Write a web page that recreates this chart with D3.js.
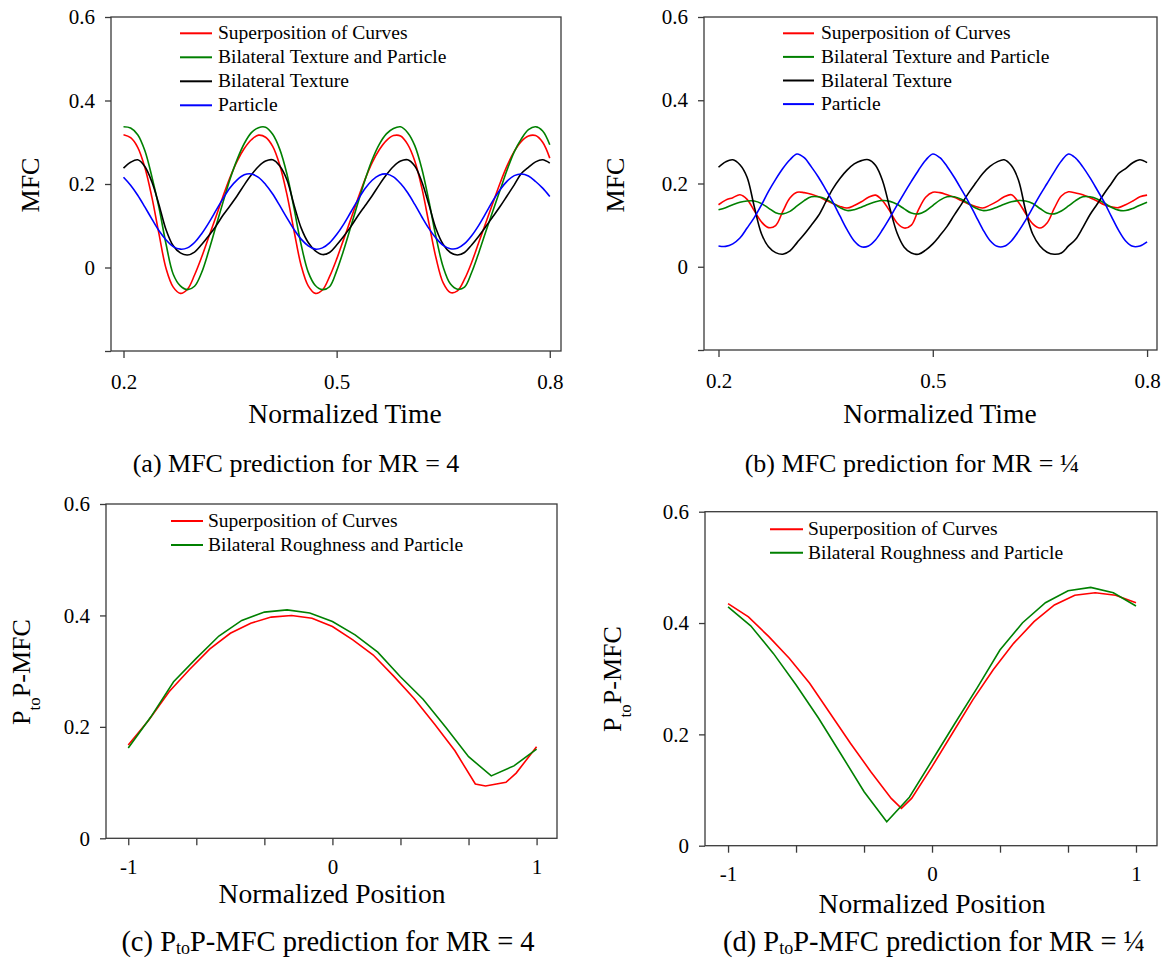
<!DOCTYPE html>
<html><head><meta charset="utf-8">
<script src="https://cdn.jsdelivr.net/npm/d3@7"></script>
<style>
body{margin:0;background:#fff}
svg{display:block}
text{font-family:"Liberation Serif","Times New Roman",serif;fill:#000}
</style>
</head><body>
<svg id="chart" width="1162" height="960"></svg>
<script>
// ---------------- DATA ----------------
const timeGrid = [0.20,0.21,0.22,0.23,0.24,0.25,0.26,0.27,0.28,0.29,
  0.30,0.31,0.32,0.33,0.34,0.35,0.36,0.37,0.38,0.39,
  0.40,0.41,0.42,0.43,0.44,0.45,0.46,0.47,0.48,0.49,
  0.50,0.51,0.52,0.53,0.54,0.55,0.56,0.57,0.58,0.59,
  0.60,0.61,0.62,0.63,0.64,0.65,0.66,0.67,0.68,0.69,
  0.70,0.71,0.72,0.73,0.74,0.75,0.76,0.77,0.78,0.79,0.80];

// (a) MR = 4
const mr4Superposition = [0.318,0.311,0.288,0.240,0.168,0.080,-0.003,-0.047,-0.062,-0.052,
  -0.018,0.025,0.073,0.121,0.170,0.216,0.255,0.285,0.306,0.317,
  0.312,0.290,0.245,0.175,0.088,0.005,-0.044,-0.062,-0.054,-0.022,
  0.020,0.068,0.116,0.165,0.211,0.251,0.282,0.304,0.316,0.315,
  0.295,0.255,0.190,0.105,0.022,-0.037,-0.060,-0.056,-0.028,0.012,
  0.060,0.107,0.155,0.202,0.244,0.278,0.302,0.315,0.316,0.300,0.262];
const mr4TextureParticle = [0.337,0.334,0.318,0.280,0.217,0.143,0.055,-0.016,-0.044,-0.053,
  -0.045,-0.012,0.040,0.098,0.156,0.212,0.259,0.297,0.323,0.335,
  0.336,0.319,0.283,0.224,0.142,0.055,-0.011,-0.043,-0.053,-0.046,
  -0.008,0.042,0.098,0.155,0.210,0.258,0.295,0.320,0.333,0.337,
  0.323,0.292,0.236,0.158,0.072,0.001,-0.039,-0.052,-0.047,-0.012,
  0.035,0.086,0.136,0.185,0.234,0.277,0.308,0.330,0.337,0.327,0.294];
const mr4Texture = [0.238,0.252,0.258,0.242,0.205,0.150,0.090,0.052,0.035,0.030,
  0.037,0.055,0.076,0.099,0.125,0.148,0.172,0.198,0.222,0.242,
  0.255,0.258,0.243,0.210,0.150,0.095,0.060,0.040,0.031,0.036,
  0.054,0.075,0.098,0.124,0.148,0.172,0.198,0.222,0.242,0.255,
  0.258,0.243,0.205,0.150,0.092,0.055,0.036,0.030,0.036,0.054,
  0.075,0.098,0.122,0.146,0.172,0.198,0.225,0.240,0.253,0.258,0.250];
const mr4Particle = [0.216,0.197,0.173,0.145,0.116,0.088,0.066,0.050,0.044,0.047,
  0.060,0.081,0.107,0.136,0.165,0.191,0.210,0.222,0.224,0.216,
  0.199,0.176,0.148,0.119,0.091,0.068,0.052,0.044,0.047,0.059,
  0.079,0.104,0.133,0.162,0.189,0.209,0.221,0.224,0.217,0.201,
  0.179,0.151,0.121,0.093,0.070,0.053,0.045,0.046,0.057,0.076,
  0.101,0.130,0.160,0.186,0.207,0.220,0.224,0.219,0.206,0.190,0.170];

// (b) MR = 1/4
const mrQSuperposition = [0.149,0.160,0.166,0.173,0.162,0.135,0.108,0.094,0.099,0.133,
  0.165,0.179,0.178,0.174,0.168,0.160,0.152,0.145,0.141,0.147,
  0.156,0.167,0.172,0.158,0.133,0.105,0.093,0.100,0.137,0.167,
  0.179,0.178,0.173,0.167,0.159,0.151,0.145,0.141,0.148,0.157,
  0.168,0.173,0.155,0.128,0.103,0.093,0.105,0.140,0.170,0.180,
  0.177,0.173,0.166,0.158,0.149,0.144,0.142,0.149,0.158,0.168,0.172];
const mrQTextureParticle = [0.137,0.142,0.149,0.155,0.158,0.158,0.152,0.141,0.130,0.127,
  0.133,0.146,0.159,0.168,0.168,0.163,0.153,0.142,0.135,0.137,
  0.143,0.150,0.156,0.159,0.157,0.150,0.139,0.129,0.127,0.134,
  0.147,0.160,0.168,0.168,0.162,0.152,0.141,0.135,0.137,0.143,
  0.150,0.156,0.159,0.158,0.152,0.140,0.129,0.127,0.134,0.146,
  0.159,0.168,0.168,0.163,0.153,0.143,0.136,0.135,0.140,0.148,0.155];
const mrQTexture = [0.239,0.252,0.257,0.245,0.215,0.145,0.080,0.048,0.034,0.030,
  0.038,0.058,0.078,0.100,0.123,0.155,0.187,0.212,0.232,0.247,
  0.255,0.257,0.243,0.205,0.140,0.081,0.047,0.033,0.030,0.040,
  0.055,0.075,0.097,0.124,0.150,0.177,0.201,0.224,0.241,0.252,
  0.257,0.243,0.208,0.135,0.078,0.050,0.035,0.030,0.033,0.050,
  0.066,0.094,0.125,0.150,0.176,0.200,0.224,0.236,0.250,0.257,0.250];
const mrQParticle = [0.050,0.049,0.055,0.069,0.093,0.118,0.148,0.181,0.210,0.236,
  0.257,0.271,0.262,0.240,0.215,0.186,0.156,0.122,0.089,0.062,
  0.048,0.050,0.065,0.090,0.118,0.148,0.177,0.205,0.232,0.256,
  0.271,0.262,0.241,0.215,0.186,0.156,0.123,0.090,0.063,0.049,
  0.049,0.062,0.085,0.112,0.142,0.172,0.200,0.228,0.254,0.271,
  0.261,0.240,0.214,0.185,0.155,0.121,0.088,0.062,0.049,0.050,0.060];

// (c) PtoP-MFC, MR = 4
const posSuperpositionC = [-1,-0.9,-0.8,-0.7,-0.6,-0.5,-0.4,-0.3,-0.2,-0.1,0,0.1,0.2,0.3,0.4,0.5,0.6,0.7,0.75,0.85,0.9,1];
const ptpMr4Superposition = [0.1675,0.212,0.263,0.303,0.340,0.368,0.386,0.397,0.400,0.395,0.380,0.356,0.329,0.291,0.251,0.205,0.157,0.0975,0.094,0.1005,0.117,0.1645];
const posRoughnessC = [-1,-0.889,-0.778,-0.667,-0.556,-0.444,-0.333,-0.222,-0.111,0,0.111,0.222,0.333,0.444,0.556,0.667,0.778,0.889,1];
const ptpMr4Roughness = [0.162,0.218,0.281,0.323,0.363,0.391,0.406,0.410,0.4045,0.389,0.365,0.334,0.290,0.2495,0.199,0.1465,0.112,0.130,0.160];

// (d) PtoP-MFC, MR = 1/4
const posSuperpositionD = [-1,-0.9,-0.8,-0.7,-0.6,-0.5,-0.4,-0.3,-0.2,-0.15,-0.1,0,0.1,0.2,0.3,0.4,0.5,0.6,0.7,0.8,0.9,1];
const ptpMrQSuperposition = [0.435,0.411,0.3755,0.3366,0.2917,0.238,0.184,0.133,0.085,0.067,0.085,0.142,0.202,0.262,0.316,0.3635,0.4024,0.4324,0.450,0.4545,0.450,0.4365];
const posRoughnessD = [-1,-0.889,-0.778,-0.667,-0.556,-0.444,-0.333,-0.222,-0.111,0,0.111,0.222,0.333,0.444,0.556,0.667,0.778,0.889,1];
const ptpMrQRoughness = [0.429,0.395,0.3455,0.289,0.229,0.163,0.097,0.043,0.087,0.153,0.219,0.284,0.3515,0.4006,0.4365,0.458,0.464,0.4545,0.4306];

// ticks & labels
const timeTicks = [0.2,0.5,0.8];
const timeTickLabels = ["0.2","0.5","0.8"];
const mfcTicks = [-0.2,0,0.2,0.4,0.6];
const mfcTickLabels = ["","0","0.2","0.4","0.6"];
const posTicks = [-1,-2/3,-1/3,0,1/3,2/3,1];
const posTickLabels = ["-1","","","0","","","1"];
const ptpTicks = [0,0.2,0.4,0.6];
const ptpTickLabels = ["0","0.2","0.4","0.6"];

const mfcSeriesNames = ["Superposition of Curves","Bilateral Texture and Particle","Bilateral Texture","Particle"];
const ptpSeriesNames = ["Superposition of Curves","Bilateral Roughness and Particle"];
const seriesColors = ["#ff0000","#008000","#000000","#0000ff"];

// ---------------- DRAW ----------------
const svg = d3.select('#chart');
const axisColor = '#3a3a3a';

function drawPanel(p){
  const g = svg.append('g');
  const x = d3.scaleLinear().domain(p.xDomain).range([p.left,p.right]);
  const y = d3.scaleLinear().domain(p.yDomain).range([p.bottom,p.top]);

  g.append('rect').attr('x',p.left).attr('y',p.top)
    .attr('width',p.right-p.left).attr('height',p.bottom-p.top)
    .attr('fill','none').attr('stroke',axisColor).attr('stroke-width',1.3);

  const ya = g.append('g').attr('transform',`translate(${p.left},0)`)
    .call(d3.axisLeft(y).tickValues(p.yTicks).tickFormat((d,i)=>p.yTickLabels[i]).tickSize(6).tickPadding(10).tickSizeOuter(0));
  ya.select('.domain').remove();
  ya.selectAll('line').attr('stroke',axisColor).attr('stroke-width',1.3);
  ya.selectAll('text').style('font-family','"Liberation Serif",serif').style('font-size','21px').attr('fill','#000');

  const xa = g.append('g').attr('transform',`translate(0,${p.bottom})`)
    .call(d3.axisBottom(x).tickValues(p.xTicks).tickFormat((d,i)=>p.xTickLabels[i]).tickSize(7).tickPadding(p.xPad).tickSizeOuter(0));
  xa.select('.domain').remove();
  xa.selectAll('line').attr('stroke',axisColor).attr('stroke-width',1.3);
  xa.selectAll('text').style('font-family','"Liberation Serif",serif').style('font-size','21px').attr('fill','#000');

  const line = d3.line().x(d=>x(d[0])).y(d=>y(d[1])).curve(p.curve);
  p.series.forEach(s=>{
    g.append('path').datum(s.xs.map((v,i)=>[v,s.ys[i]]))
      .attr('d',line).attr('fill','none').attr('stroke',s.color).attr('stroke-width',1.6);
  });

  // legend
  p.series.forEach((s,i)=>{
    const ry = p.legend.y0 + i*p.legend.dy;
    g.append('line').attr('x1',p.legend.x1).attr('x2',p.legend.x2).attr('y1',ry).attr('y2',ry)
      .attr('stroke',s.color).attr('stroke-width',2);
    g.append('text').attr('x',p.legend.tx).attr('y',ry+6).style('font-size','19.5px').text(s.name);
  });

  // y label
  const yl = g.append('text').attr('transform',`translate(${p.yLabel.x},${p.yLabel.y}) rotate(-90)`)
    .attr('text-anchor','middle').style('font-size','26px');
  if(p.yLabel.sub){
    yl.append('tspan').text('P');
    yl.append('tspan').attr('dy',10).style('font-size','17px').text('to');
    yl.append('tspan').attr('dy',-10).text('P-MFC');
  } else yl.text('MFC');

  // x title
  g.append('text').attr('x',p.xTitle.x).attr('y',p.xTitle.y).attr('text-anchor','middle')
    .style('font-size','27.5px').text(p.xTitle.text);

  // caption
  const c = g.append('text').attr('x',p.caption.x).attr('y',p.caption.y).attr('text-anchor','middle').style('font-size',p.caption.size+'px');
  if(p.caption.sub){
    c.append('tspan').text(p.caption.pre);
    c.append('tspan').attr('dy',3).style('font-size','18px').text('to');
    c.append('tspan').attr('dy',-3).text(p.caption.post);
  } else c.text(p.caption.text);
}

const smooth = d3.curveCatmullRom.alpha(0.5);

drawPanel({
  left:111, right:561, top:17, bottom:351,
  xDomain:[0.1824,0.8158], yDomain:[-0.2,0.6],
  xTicks:timeTicks, xTickLabels:timeTickLabels, yTicks:mfcTicks, yTickLabels:mfcTickLabels, xPad:16,
  curve:smooth,
  series:[
    {xs:timeGrid, ys:mr4Superposition, color:seriesColors[0], name:mfcSeriesNames[0]},
    {xs:timeGrid, ys:mr4TextureParticle, color:seriesColors[1], name:mfcSeriesNames[1]},
    {xs:timeGrid, ys:mr4Texture, color:seriesColors[2], name:mfcSeriesNames[2]},
    {xs:timeGrid, ys:mr4Particle, color:seriesColors[3], name:mfcSeriesNames[3]}],
  legend:{x1:180, x2:212, tx:218, y0:33.3, dy:24},
  yLabel:{x:39, y:185},
  xTitle:{x:345, y:423, text:'Normalized Time'},
  caption:{x:296, y:472, size:26, text:'(a) MFC prediction for MR = 4'}
});

drawPanel({
  left:704, right:1157, top:17, bottom:350,
  xDomain:[0.1797,0.8139], yDomain:[-0.2,0.6],
  xTicks:timeTicks, xTickLabels:timeTickLabels, yTicks:mfcTicks, yTickLabels:mfcTickLabels, xPad:16,
  curve:smooth,
  series:[
    {xs:timeGrid, ys:mrQSuperposition, color:seriesColors[0], name:mfcSeriesNames[0]},
    {xs:timeGrid, ys:mrQTextureParticle, color:seriesColors[1], name:mfcSeriesNames[1]},
    {xs:timeGrid, ys:mrQTexture, color:seriesColors[2], name:mfcSeriesNames[2]},
    {xs:timeGrid, ys:mrQParticle, color:seriesColors[3], name:mfcSeriesNames[3]}],
  legend:{x1:783, x2:814, tx:821, y0:33.3, dy:23.6},
  yLabel:{x:624, y:185},
  xTitle:{x:940, y:423, text:'Normalized Time'},
  caption:{x:912, y:472, size:26, text:'(b) MFC prediction for MR = ¼'}
});

drawPanel({
  left:106, right:557, top:504, bottom:838.3,
  xDomain:[-1.109,1.1], yDomain:[0,0.6],
  xTicks:posTicks, xTickLabels:posTickLabels, yTicks:ptpTicks, yTickLabels:ptpTickLabels, xPad:14,
  curve:d3.curveLinear,
  series:[
    {xs:posSuperpositionC, ys:ptpMr4Superposition, color:seriesColors[0], name:ptpSeriesNames[0]},
    {xs:posRoughnessC, ys:ptpMr4Roughness, color:seriesColors[1], name:ptpSeriesNames[1]}],
  legend:{x1:171, x2:203, tx:208, y0:521, dy:24},
  yLabel:{x:30, y:672, sub:true},
  xTitle:{x:332, y:903, text:'Normalized Position'},
  caption:{x:328, y:951, size:28.5, sub:true, pre:'(c) P', post:'P-MFC prediction for MR = 4'}
});

drawPanel({
  left:705, right:1157, top:511.7, bottom:845.7,
  xDomain:[-1.113,1.103], yDomain:[0,0.6],
  xTicks:posTicks, xTickLabels:posTickLabels, yTicks:ptpTicks, yTickLabels:ptpTickLabels, xPad:13,
  curve:d3.curveLinear,
  series:[
    {xs:posSuperpositionD, ys:ptpMrQSuperposition, color:seriesColors[0], name:ptpSeriesNames[0]},
    {xs:posRoughnessD, ys:ptpMrQRoughness, color:seriesColors[1], name:ptpSeriesNames[1]}],
  legend:{x1:770, x2:803, tx:808, y0:529.3, dy:23.4},
  yLabel:{x:621, y:679, sub:true},
  xTitle:{x:932, y:913, text:'Normalized Position'},
  caption:{x:934, y:951, size:28.5, sub:true, pre:'(d) P', post:'P-MFC prediction for MR = ¼'}
});
</script>
</body></html>
